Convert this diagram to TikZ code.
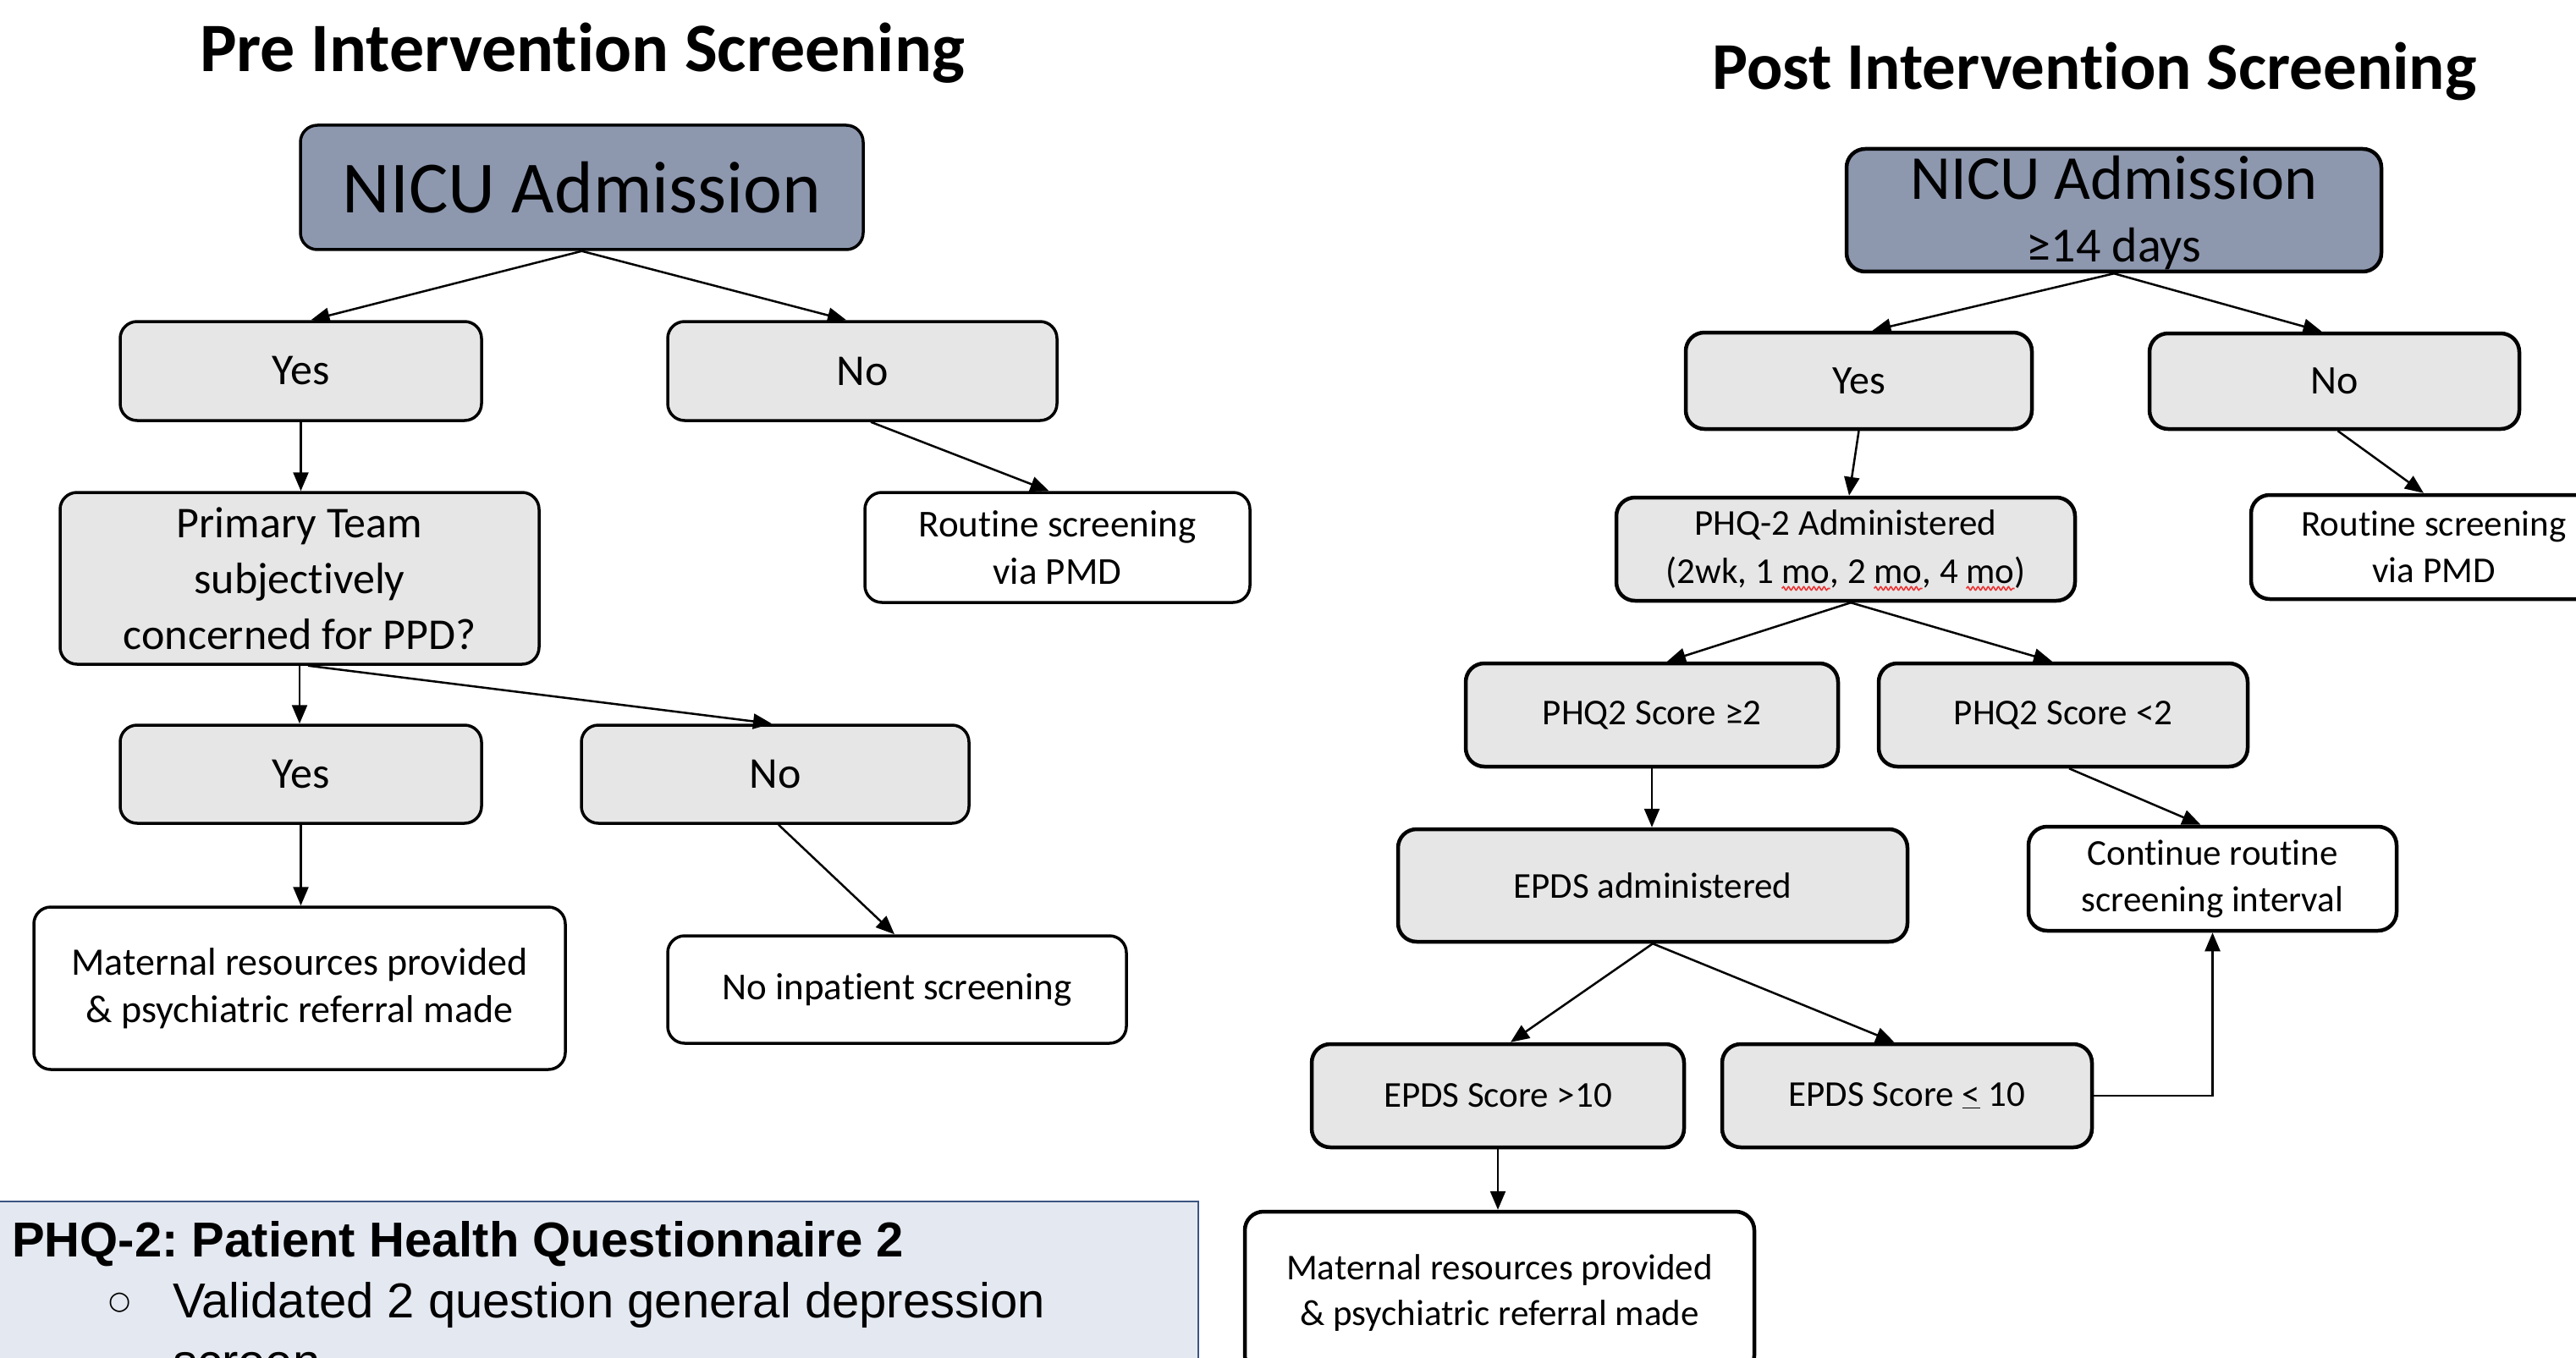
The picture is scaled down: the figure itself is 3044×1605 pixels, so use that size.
\documentclass[tikz,border=0pt]{standalone}
\usepackage{fontspec}
\setmainfont{Carlito}[Ligatures=NoCommon]
\newfontfamily\arialfont{Liberation Sans}
\newfontfamily\dejavufont{DejaVu Sans}
\usetikzlibrary{arrows.meta,decorations.pathmorphing}
\frenchspacing
\definecolor{darkfill}{RGB}{141,152,175}
\definecolor{grayfill}{RGB}{230,230,230}
\definecolor{legendfill}{RGB}{228,232,240}
\definecolor{legendline}{RGB}{60,85,130}
\definecolor{spellred}{RGB}{235,50,50}
\newcommand{\fsetsize}[2]{\fontsize{#1}{#2}\selectfont}
\newcommand{\spellwave}[1]{\tikz[baseline=(sw.base)]{\node[inner sep=0pt,outer sep=0pt,draw=none,fill=none,minimum width=0pt,minimum height=0pt,sharp corners](sw){#1};\draw[overlay,spellred,line width=1.6pt,sharp corners,decorate,decoration={snake,amplitude=2pt,segment length=6pt}] ([yshift=-6pt]sw.base west) -- ([yshift=-6pt]sw.base east);}}
\tikzset{
  sz/.style 2 args={minimum width=#1, minimum height=#2},
  boxL/.style={draw=black, line width=3.5pt, rounded corners=20pt, inner sep=4pt, align=center},
  darkL/.style={boxL, fill=darkfill},
  grayL/.style={boxL, fill=grayfill},
  whiteL/.style={boxL, fill=white},
  boxR/.style={draw=black, line width=4.5pt, rounded corners=22pt, inner sep=4pt, align=center},
  darkR/.style={boxR, fill=darkfill},
  grayR/.style={boxR, fill=grayfill},
  whiteR/.style={boxR, fill=white},
  conn/.style={line width=2.5pt, -{Triangle[length=22pt,width=18pt]}},
  fbig/.style={font=\fsetsize{52}{66}},
  fsmallL/.style={font=\fsetsize{45}{56}},
  fsmallR/.style={font=\fsetsize{43}{55}},
}
\begin{document}
\begin{tikzpicture}[x=1pt,y=-1pt]
\useasboundingbox (0,0) rectangle (3044,1605);
\fill[white] (0,0) rectangle (3044,1605);
\clip (0,0) rectangle (3044,1605);

% ---------- titles
\node[font=\bfseries\fsetsize{82}{98}, anchor=base, inner sep=0pt] (titleL) at (688,85) {Pre Intervention Screening};
\node[font=\bfseries\fsetsize{79}{96}, anchor=base, inner sep=0pt] (titleR) at (2475,106) {Post Intervention Screening};

% ---------- left flowchart
\node[darkL, sz={665pt}{147pt}, font=\fsetsize{87}{100}] (nicuL) at (687.5,221.5) {NICU Admission};
\node[grayL, sz={427pt}{117pt}, fbig] (yesL1) at (355.5,438.5) {Yes};
\node[grayL, sz={460pt}{117pt}, fbig] (noL1) at (1019,438.5) {No};
\node[grayL, sz={566pt}{203pt}, fbig] (primL) at (354,683.5) {Primary Team\\subjectively\\concerned for PPD?};
\node[whiteL, sz={455pt}{130pt}, fsmallL] (routL) at (1249.5,647) {Routine screening\\via PMD};
\node[grayL, sz={427pt}{116pt}, fbig] (yesL2) at (355.5,915) {Yes};
\node[grayL, sz={458pt}{116pt}, fbig] (noL2) at (916,915) {No};
\node[whiteL, sz={628pt}{192pt}, font=\fsetsize{46}{56}] (matL) at (354,1168) {Maternal resources provided\\\& psychiatric referral made};
\node[whiteL, sz={542pt}{127pt}, fsmallL] (noinpL) at (1060,1169.5) {No inpatient screening};

\draw[conn] (nicuL.south) -- ([xshift=12pt]yesL1.north);
\draw[conn] (nicuL.south) -- ([xshift=-19pt]noL1.north);
\draw[conn] (yesL1.south) -- (yesL1.south |- primL.north);
\draw[conn] ([xshift=10pt]noL1.south) -- ([xshift=-10pt]routL.north);
\draw[conn] (primL.south) -- (primL.south |- yesL2.north);
\draw[conn] ([xshift=10pt]primL.south) -- ([xshift=-4pt]noL2.north);
\draw[conn] (yesL2.south) -- (yesL2.south |- matL.north);
\draw[conn] ([xshift=4pt]noL2.south) -- ([xshift=-3pt]noinpL.north);

% ---------- right flowchart
\node[darkR, sz={632pt}{145pt}, font=\fsetsize{74}{74}] (nicuR) at (2498,248.5) {};
\node[font=\fsetsize{74}{74}, align=center, inner sep=4pt] (nicuRtext) at (2498,251) {NICU Admission\\\fsetsize{58}{67}≥14 days};
\node[grayR, sz={409pt}{114pt}, font=\fsetsize{48}{58}] (yesR) at (2196.5,450) {Yes};
\node[grayR, sz={437pt}{113pt}, font=\fsetsize{48}{58}] (noR) at (2758.5,450.5) {No};
\node[grayR, sz={542pt}{122pt}, font=\fsetsize{43}{57}] (phqR) at (2181,649) {PHQ-2 Administered\\(2wk, 1 \spellwave{mo}, 2 \spellwave{mo}, 4 \spellwave{mo})};
\node[whiteR, sz={432pt}{123pt}, fsmallR] (routR) at (2876,646.5) {Routine screening\\via PMD};
\node[grayR, sz={440pt}{122pt}, fsmallR] (phqgeR) at (1952,845) {PHQ2 Score ≥2};
\node[grayR, sz={436pt}{122pt}, fsmallR] (phqltR) at (2438,845) {PHQ2 Score <2};
\node[grayR, sz={602pt}{133pt}, fsmallR] (epdsR) at (1953,1046.5) {EPDS administered};
\node[whiteR, sz={435pt}{123pt}, fsmallR] (contR) at (2614.5,1038.5) {Continue routine\\screening interval};
\node[grayR, sz={440pt}{122pt}, fsmallR] (epgtR) at (1770,1295) {EPDS Score >10};
\node[grayR, sz={437pt}{122pt}, fsmallR] (epleR) at (2253.5,1295) {EPDS Score \underline{<} 10};
\node[whiteR, sz={602pt}{192pt}, font=\fsetsize{43}{54}] (matR) at (1772,1528) {Maternal resources provided\\\& psychiatric referral made};

\draw[conn] (nicuR.south) -- ([xshift=16pt]yesR.north);
\draw[conn] (nicuR.south) -- ([xshift=-15pt]noR.north);
\draw[conn] (yesR.south) -- ([xshift=4pt]phqR.north);
\draw[conn] ([xshift=4pt]noR.south) -- ([xshift=-12pt]routR.north);
\draw[conn] ([xshift=6pt]phqR.south) -- ([xshift=18pt]phqgeR.north);
\draw[conn] ([xshift=6pt]phqR.south) -- ([xshift=-13pt]phqltR.north);
\draw[conn] (phqgeR.south) -- (phqgeR.south |- epdsR.north);
\draw[conn] ([xshift=7pt]phqltR.south) -- ([xshift=-14pt]contR.north);
\draw[conn] (epdsR.south) -- ([xshift=15pt]epgtR.north);
\draw[conn] (epdsR.south) -- ([xshift=-15pt]epleR.north);
\draw[conn] (epleR.east) -| (contR.south);
\draw[conn] (epgtR.south) -- (epgtR.south |- matR.north);

% ---------- legend
\node[draw=legendline, line width=2pt, fill=legendfill, anchor=north west, inner sep=0pt, minimum width=1425pt, minimum height=260pt] (legend) at (-10,1419) {};
\node[anchor=base west, inner sep=0pt, font=\arialfont\bfseries\fsetsize{58}{70}] (legt) at (14,1485) {PHQ-2: Patient Health Questionnaire 2};
\node[anchor=base west, inner sep=0pt, font=\dejavufont\fsetsize{30}{36}] (legb) at (128,1547) {○};
\node[anchor=base west, inner sep=0pt, font=\arialfont\fsetsize{58}{70}] (legl1) at (204,1557) {Validated 2 question general depression};
\node[anchor=base west, inner sep=0pt, font=\arialfont\fsetsize{58}{70}] (legl2) at (204,1629) {screen};
\end{tikzpicture}
\end{document}
